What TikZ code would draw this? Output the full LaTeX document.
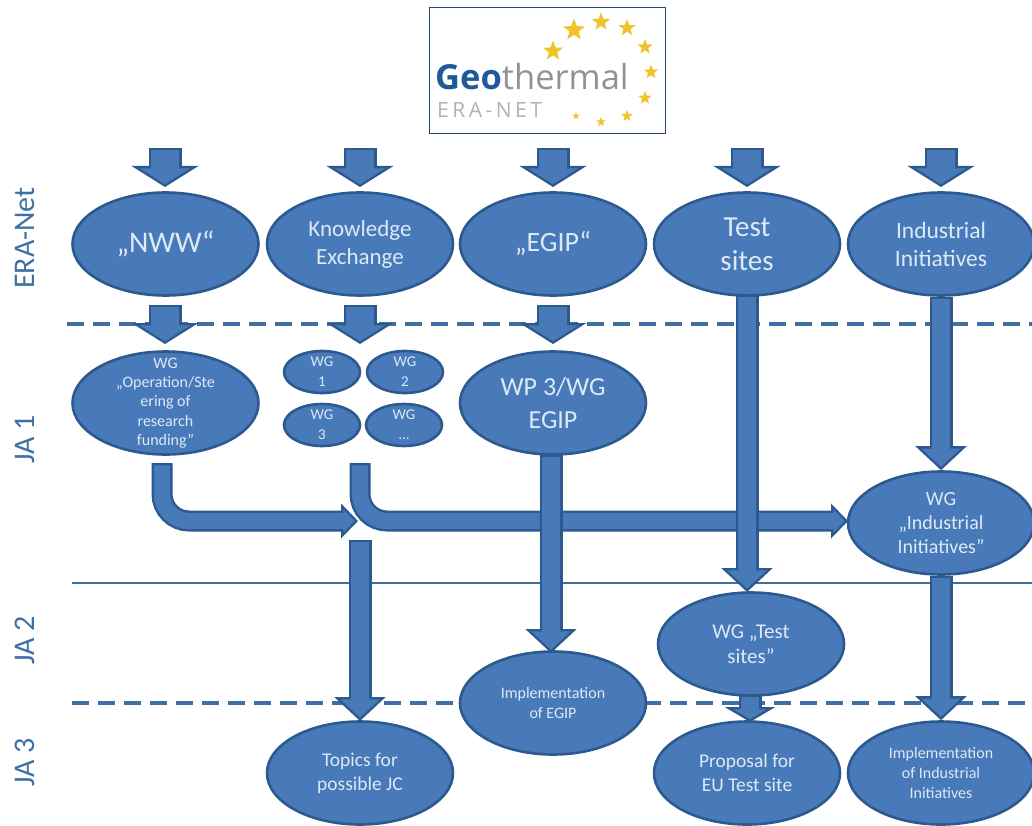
\documentclass[tikz,border=0pt]{standalone}
\usepackage{fontspec}
\setmainfont{Carlito}
\newfontfamily\logofont{Open Sans}
\usetikzlibrary{arrows.meta,shapes.geometric}
\definecolor{blockfill}{HTML}{4879B8}
\definecolor{blockline}{HTML}{2C5A8E}
\definecolor{ruleblue}{HTML}{3F6FA3}
\definecolor{soft}{HTML}{DDE9F5}
\definecolor{geoblue}{HTML}{1F5A96}
\definecolor{geogrey}{HTML}{8E9397}
\definecolor{erag}{HTML}{B0B3B5}
\definecolor{stary}{HTML}{EFC42A}
\tikzset{
  oval/.style={ellipse,draw=blockline,line width=2.6pt,fill=blockfill,text=soft,align=center,inner sep=-20pt,minimum width=186pt,minimum height=103pt},
  smalloval/.style={oval,minimum width=76pt,minimum height=42pt,font=\fontsize{15}{20}\selectfont},
  f30/.style={font=\fontsize{30}{33}\selectfont},
  f28/.style={font=\fontsize{28}{33}\selectfont},
  f23/.style={font=\fontsize{23}{28}\selectfont},
  f19/.style={font=\fontsize{19.5}{24}\selectfont},
  f16/.style={font=\fontsize{16}{20}\selectfont},
  rule/.style={ruleblue,line width=2.6pt},
  dashrule/.style={ruleblue,line width=3.4pt,dash pattern=on 17pt off 9pt},
  rowlabel/.style={rotate=90,text=ruleblue,font=\fontsize{30}{30}\selectfont},
  logostar/.style={star,star points=5,star point ratio=2.4,fill=stary,inner sep=0pt}
}
% #1 shaft width, #2 head width, #3 head length, #4 path
\newcommand{\blockarrow}[4]{%
  \pgfmathsetmacro{\outl}{2.4}%
  \pgfmathsetmacro{\apex}{\outl*sqrt(1+(2*#3/#2)^2)}%
  \pgfmathsetmacro{\innerL}{#3-\outl-\apex}%
  \pgfmathsetmacro{\innerW}{#2*\innerL/#3}%
  \pgfmathsetmacro{\innerS}{#1-2*\outl}%
  \draw[blockline,line width=#1pt,rounded corners=27pt,-{Triangle[length=#3pt,width=#2pt]}] #4;
  \draw[blockfill,line width=\innerS pt,rounded corners=27pt,shorten <=\outl pt,shorten >=\apex pt,-{Triangle[length=\innerL pt,width=\innerW pt]}] #4;
}
\begin{document}
\begin{tikzpicture}[x=1pt,y=-1pt]
\useasboundingbox (0,0) rectangle (1032,826);
\fill[white] (0,0) rectangle (1032,826);
% rules
\coordinate (d1a) at (67,324); \coordinate (d1b) at (1032,324);
\coordinate (s1a) at (72,583); \coordinate (s1b) at (1032,583);
\coordinate (d2a) at (72,703); \coordinate (d2b) at (1032,703);
\draw[dashrule] (d1a) -- (d1b);
\draw[rule] (s1a) -- (s1b);
\draw[dashrule] (d2a) -- (d2b);
% row labels
\node[rowlabel] (rERA) at (25,238) {ERA-Net};
\node[rowlabel] (rJA1) at (25,439) {JA 1};
\node[rowlabel] (rJA2) at (25,640) {JA 2};
\node[rowlabel] (rJA3) at (25,762) {JA 3};
% logo
\node[draw=blockline!80!black,line width=1pt,fill=white,minimum width=236pt,minimum height=126pt,inner sep=0pt] (logo) at (547,71) {};
\node[anchor=base west,inner sep=0pt,font=\logofont\fontsize{34.5}{36}\selectfont,text=geogrey] (geo) at (435,90) {\textcolor{geoblue}{\textbf{Geo}}thermal};
\node[anchor=base west,inner sep=0pt,font=\logofont\fontsize{21}{21}\selectfont,text=erag] (era) at (437,118) {E\,R\,A\,-\,N\,E\,T};
\foreach \n/\px/\py/\r in {a/553/51/21,b/574/30/23,c/601/22/19,d/627/28/18,e/645/47/16,f/651/72/15,g/645/98/14,h/627/116/12,i/601/122/10,j/576/116/8}
  \node[logostar,minimum size=\r pt] (star\n) at (\px,\py) {};
% ovals
\node[oval,f30] (nww) at (165.5,244) {„NWW“};
\node[oval,f23] (ke) at (360,244) {Knowledge\\Exchange};
\node[oval,f28] (egip) at (553,244) {„EGIP“};
\node[oval,font=\fontsize{29}{34}\selectfont] (test) at (747,244) {Test\\sites};
\node[oval,font=\fontsize{23.5}{28}\selectfont] (ind) at (941,244) {Industrial\\Initiatives};
\node[oval,font=\fontsize{16}{19.4}\selectfont] (op) at (165.5,403) {WG\\„Operation/Ste\\ering of\\research\\funding”};
\node[smalloval] (w1) at (322,372) {WG\\1};
\node[smalloval] (w2) at (405,372) {WG\\2};
\node[smalloval] (w3) at (322,425) {WG\\3};
\node[smalloval] (w4) at (404,425) {WG\\…};
\node[oval,font=\fontsize{26}{33}\selectfont] (wp3) at (553,403) {WP 3/WG\\EGIP};
\node[oval,font=\fontsize{20}{24}\selectfont] (wgind) at (941,523) {WG\\„Industrial\\Initiatives”};
\node[oval,font=\fontsize{21}{25}\selectfont] (wgtest) at (751,644) {WG „Test\\sites”};
\node[oval,f16] (impe) at (553,703) {Implementation\\of EGIP};
\node[oval,f19] (topics) at (360,773) {Topics for\\possible JC};
\node[oval,f19] (prop) at (747,773) {Proposal for\\EU Test site};
\node[oval,f16] (impi) at (941,773) {Implementation\\of Industrial\\Initiatives};
% free ends
\foreach \n/\x in {a/165,b/360,c/553,d/747,e/941} {
  \coordinate (top\n) at (\x,148);
  \coordinate (tip\n) at (\x,187);
}
\coordinate (kn) at (360,344);
\coordinate (opn) at (165,344);
\coordinate (wpn) at (553,344);
\coordinate (el1s) at (162,463);
\coordinate (el1m) at (162,521);
\coordinate (el1e) at (358,521);
\coordinate (el2s) at (360,463);
\coordinate (el2m) at (360,521);
\coordinate (el2e) at (848,521);
\coordinate (topicss) at (360,540);
\coordinate (topicse) at (360,721);
\coordinate (m1) at (165,305); \coordinate (m2) at (360,305); \coordinate (m3) at (553,305);
\coordinate (tests) at (747,295); \coordinate (teste) at (747,592);
\coordinate (wps) at (551,455); \coordinate (wpe) at (551,653);
\coordinate (wts) at (750,695); \coordinate (wte) at (750,722);
% arrows
\foreach \n in {a,b,c,d,e} { \blockarrow{33}{66}{21}{(top\n) -- (tip\n)} }
\blockarrow{33}{66}{21}{(m1) -- (opn)}
\blockarrow{33}{66}{21}{(m2) -- (kn)}
\blockarrow{33}{66}{21}{(m3) -- (wpn)}
\blockarrow{21}{34}{17}{(el1s) -- (el1m) -- (el1e)}
\blockarrow{21}{34}{17}{(el2s) -- (el2m) -- (el2e)}
\blockarrow{23}{50}{24}{(tests) -- (teste)}
\blockarrow{23}{50}{24}{(ind.south) -- (wgind.north)}
\blockarrow{23}{50}{24}{(wps) -- (wpe)}
\blockarrow{23}{50}{24}{(topicss) -- (topicse)}
\blockarrow{23}{50}{24}{(wgind.south) -- (impi.north)}
\blockarrow{23}{50}{15}{(wts) -- (wte)}
\end{tikzpicture}
\end{document}
